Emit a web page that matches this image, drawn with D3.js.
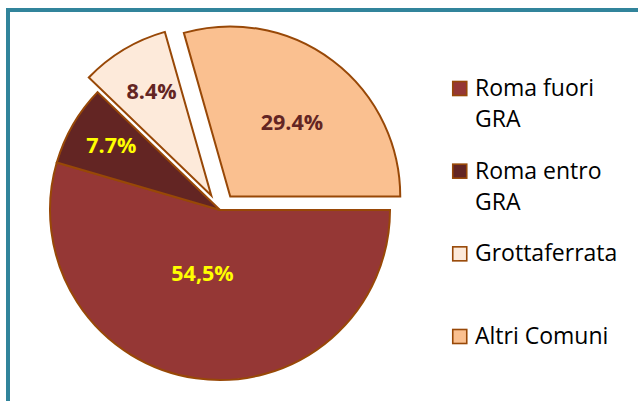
<!DOCTYPE html>
<html>
<head>
<meta charset="utf-8">
<script src="https://cdn.jsdelivr.net/npm/d3@7"></script>
<style>
  html, body { margin: 0; padding: 0; background: #fff; }
  svg { display: block; font-family: "Open Sans", Lato, sans-serif; }
</style>
</head>
<body>
<svg id="chart" width="638" height="401"></svg>
<script>
const categories = ['Roma fuori GRA', 'Roma entro GRA', 'Grottaferrata', 'Altri Comuni'];
const values     = [54.5, 7.7, 8.4, 29.4];
const valueLabels = ['54,5%', '7.7%', '8.4%', '29.4%'];
const exploded   = [false, false, true, true];

const FILLS  = ['#953735', '#632523', '#FDEADA', '#FAC090'];
const LABEL_COLORS = ['#FFFF00', '#FFFF00', '#632523', '#632523'];
// label placement: [fraction of radius, angle nudge in degrees]
const LABEL_POS = [[0.385, 7.4], [0.745, 0.8], [0.708, 1.2], [0.569, 2.5]];
const EDGE = '#984807';

const svg = d3.select('#chart');
const W = 638, H = 401;

// frame
svg.append('rect')
  .attr('x', 8).attr('y', 10)
  .attr('width', W + 20).attr('height', H + 20)
  .attr('fill', 'none')
  .attr('stroke', '#31849B')
  .attr('stroke-width', 4);

const cx = 220, cy = 210, R = 170, explode = 17;

const pie = d3.pie()
  .value(d => d)
  .sort(null)
  .startAngle(Math.PI / 2)
  .endAngle(Math.PI / 2 + Math.PI * 2);

const arcs = pie(values);
const arc = d3.arc().innerRadius(0).outerRadius(R);

const g = svg.append('g').attr('transform', `translate(${cx},${cy})`);

const slices = g.selectAll('g.slice')
  .data(arcs)
  .join('g')
  .attr('class', 'slice')
  .attr('transform', (d, i) => {
    if (!exploded[i]) return null;
    const mid = (d.startAngle + d.endAngle) / 2;
    return `translate(${Math.sin(mid) * explode},${-Math.cos(mid) * explode})`;
  });

slices.append('path')
  .attr('d', arc)
  .attr('fill', (d, i) => FILLS[i])
  .attr('stroke', EDGE)
  .attr('stroke-width', 2)
  .attr('stroke-linejoin', 'miter');

slices.append('text')
  .attr('transform', (d, i) => {
    const [f, nudge] = LABEL_POS[i];
    const a = (d.startAngle + d.endAngle) / 2 + nudge * Math.PI / 180;
    return `translate(${Math.sin(a) * R * f},${-Math.cos(a) * R * f})`;
  })
  .attr('text-anchor', 'middle')
  .attr('dy', '0.36em')
  .attr('font-weight', 'bold')
  .attr('font-size', 21.5)
  .attr('fill', (d, i) => LABEL_COLORS[i])
  .text((d, i) => valueLabels[i]);

// legend
const legendY = d3.scalePoint().domain(categories).range([96, 344]);
const legend = svg.append('g');
const items = legend.selectAll('g')
  .data(categories)
  .join('g')
  .attr('transform', d => `translate(452,${legendY(d)})`);

items.append('rect')
  .attr('x', 0.75).attr('y', -14.5)
  .attr('width', 14).attr('height', 14)
  .attr('fill', (d, i) => FILLS[i])
  .attr('stroke', EDGE)
  .attr('stroke-width', 1.6);

items.append('text')
  .attr('x', 23)
  .attr('font-size', 23)
  .attr('fill', '#000')
  .each(function (d) {
    const t = d3.select(this);
    const words = d.split(' ');
    let line = [];
    let tspan = t.append('tspan').attr('x', 23).attr('dy', 0);
    words.forEach(w => {
      line.push(w);
      tspan.text(line.join(' '));
      if (tspan.node().getComputedTextLength() > 158 && line.length > 1) {
        line.pop();
        tspan.text(line.join(' '));
        line = [w];
        tspan = t.append('tspan').attr('x', 23).attr('dy', 31).text(w);
      }
    });
  });
</script>
</body>
</html>
